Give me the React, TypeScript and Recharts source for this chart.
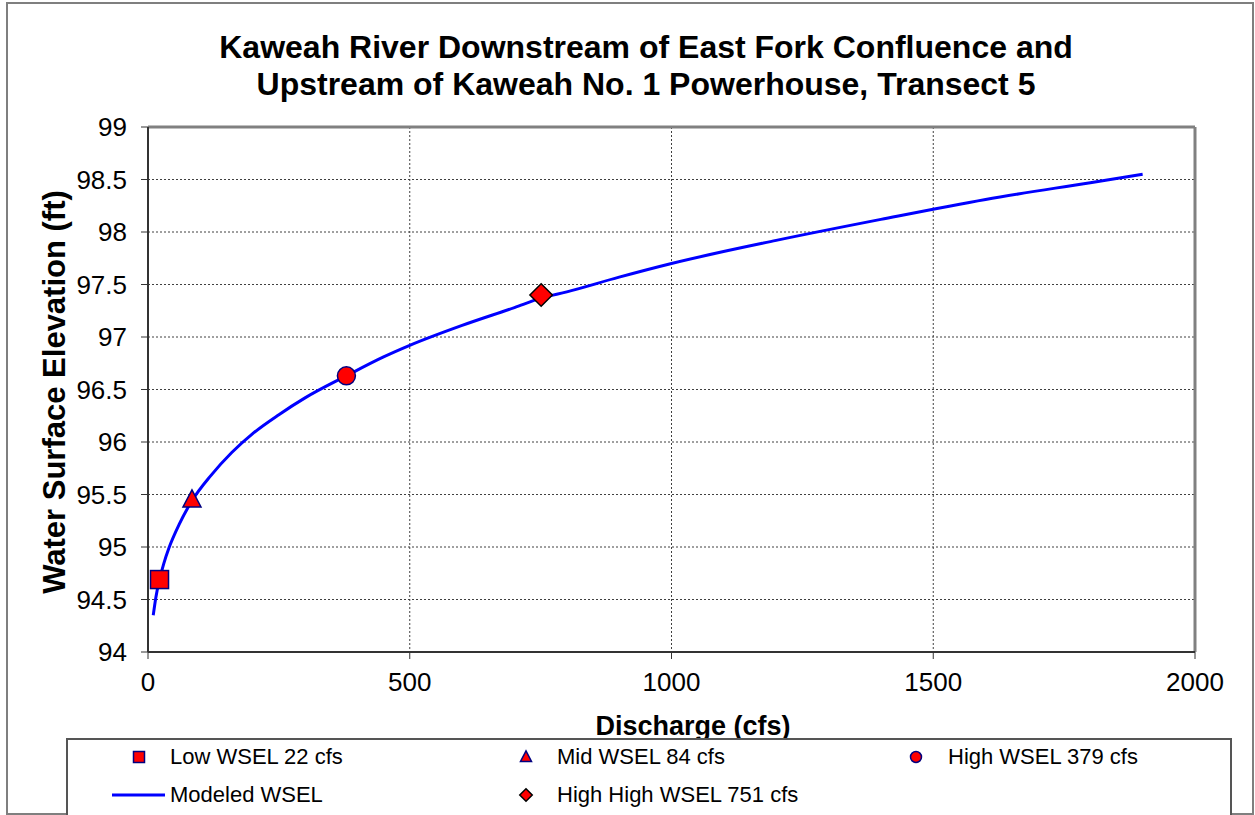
import { ComposedChart, Line, Scatter, XAxis, YAxis, CartesianGrid, ReferenceLine, Label } from 'recharts'

const modeledQ = [10, 15, 22, 30, 40, 60, 84, 120, 160, 200, 250, 300, 379, 450, 500, 600, 700, 751, 800, 900, 1000, 1200, 1400, 1600, 1800, 1900]
const modeledWsel = [94.35, 94.52, 94.69, 94.84, 94.99, 95.22, 95.44, 95.68, 95.9, 96.08, 96.26, 96.42, 96.63, 96.81, 96.92, 97.11, 97.28, 97.37, 97.43, 97.57, 97.7, 97.92, 98.12, 98.31, 98.47, 98.55]

const obsNames = ['Low WSEL 22 cfs', 'Mid WSEL 84 cfs', 'High WSEL 379 cfs', 'High High WSEL 751 cfs']
const obsQ = [22, 84, 379, 751]
const obsWsel = [94.69, 95.45, 96.63, 97.4]

const xTicks = [0, 500, 1000, 1500, 2000]
const yTicks = [94, 94.5, 95, 95.5, 96, 96.5, 97, 97.5, 98, 98.5, 99]

const modeled = modeledQ.map((q, i) => ({ q, wsel: modeledWsel[i] }))

const FONT = 'Liberation Sans, Arial, Helvetica, sans-serif'
const RED = '#ff0000'
const NAVY = '#000080'

type Kind = 'square' | 'triangle' | 'circle' | 'diamond'
const kinds: Kind[] = ['square', 'triangle', 'circle', 'diamond']

function Marker({ kind, cx, cy, s }: { kind: Kind; cx: number; cy: number; s: number }) {
  const h = s / 2
  if (kind === 'square')
    return <rect x={cx - h} y={cy - h} width={s} height={s} fill={RED} stroke={NAVY} strokeWidth={1.5} />
  if (kind === 'triangle')
    return (
      <polygon
        points={`${cx},${cy - h * 1.1} ${cx + h},${cy + h * 0.8} ${cx - h},${cy + h * 0.8}`}
        fill={RED}
        stroke={NAVY}
        strokeWidth={1.5}
      />
    )
  if (kind === 'circle') return <circle cx={cx} cy={cy} r={h} fill={RED} stroke={NAVY} strokeWidth={1.5} />
  const d = h * 1.25
  return (
    <polygon
      points={`${cx},${cy - d} ${cx + d},${cy} ${cx},${cy + d} ${cx - d},${cy}`}
      fill={RED}
      stroke="#000"
      strokeWidth={1.5}
    />
  )
}

function LegendIcon({ kind }: { kind: Kind | 'line' }) {
  return (
    <svg width={60} height={20} style={{ display: 'block' }}>
      {kind === 'line' ? (
        <line x1={3} y1={10} x2={56} y2={10} stroke="#0000ff" strokeWidth={3} />
      ) : (
        <Marker kind={kind} cx={30} cy={10} s={kind === 'diamond' ? 10 : 11} />
      )}
    </svg>
  )
}

// legend entries in the order excel lays them out: 3 per row
const legendItems: { label: string; kind: Kind | 'line'; col: number; row: number }[] = [
  { label: obsNames[0], kind: 'square', col: 0, row: 0 },
  { label: obsNames[1], kind: 'triangle', col: 1, row: 0 },
  { label: obsNames[2], kind: 'circle', col: 2, row: 0 },
  { label: 'Modeled WSEL', kind: 'line', col: 0, row: 1 },
  { label: obsNames[3], kind: 'diamond', col: 1, row: 1 },
]
const colIcon = [73, 460, 850]
const colText = [104, 491, 882]
const rowY = [19, 57]

export default function App() {
  return (
    <div style={{ position: 'absolute', left: 0, top: 0, width: 1255, height: 815, background: '#fff', fontFamily: FONT, overflow: 'hidden' }}>
      <div
        style={{
          position: 'absolute',
          left: 6,
          top: 2,
          width: 1248,
          height: 813,
          border: '2px solid #7f7f7f',
          boxSizing: 'border-box',
        }}
      />
      <div
        style={{
          position: 'absolute',
          left: 146,
          top: 29,
          width: 1000,
          textAlign: 'center',
          fontWeight: 'bold',
          fontSize: 32,
          lineHeight: '37px',
          color: '#000',
        }}
      >
        Kaweah River Downstream of East Fork Confluence and
        <br />
        Upstream of Kaweah No. 1 Powerhouse, Transect 5
      </div>

      <div style={{ position: 'absolute', left: 0, top: 0 }}>
        <ComposedChart width={1255} height={815} margin={{ top: 127, right: 60, left: 68, bottom: 103 }}>
          <CartesianGrid stroke="#404040" strokeDasharray="2 2" strokeWidth={1} />
          <XAxis
            type="number"
            dataKey="q"
            domain={[0, 2000]}
            ticks={xTicks}
            height={60}
            tickSize={7}
            tickMargin={14}
            axisLine={{ stroke: '#333', strokeWidth: 2 }}
            tickLine={{ stroke: '#333' }}
            tick={{ fontSize: 26, fill: '#000', fontFamily: FONT }}
          >
            <Label
              content={() => (
                <text x={693} y={735} textAnchor="middle" fontSize={27} fontWeight="bold" fontFamily={FONT} fill="#000">
                  Discharge (cfs)
                </text>
              )}
            />
          </XAxis>
          <YAxis
            type="number"
            dataKey="wsel"
            domain={[94, 99]}
            ticks={yTicks}
            width={80}
            tickSize={7}
            tickMargin={14}
            axisLine={{ stroke: '#333', strokeWidth: 2 }}
            tickLine={{ stroke: '#333' }}
            tick={{ fontSize: 26, fill: '#000', fontFamily: FONT }}
          >
            <Label
              content={() => (
                <text
                  x={65}
                  y={392}
                  transform="rotate(-90, 65, 392)"
                  textAnchor="middle"
                  fontSize={31}
                  fontWeight="bold"
                  fontFamily={FONT}
                  fill="#000"
                >
                  Water Surface Elevation (ft)
                </text>
              )}
            />
          </YAxis>
          <ReferenceLine y={99} stroke="#808080" strokeWidth={3} />
          <ReferenceLine x={2000} stroke="#808080" strokeWidth={3} />
          <Line
            data={modeled}
            dataKey="wsel"
            type="monotone"
            stroke="#0000ff"
            strokeWidth={3}
            dot={false}
            activeDot={false}
            isAnimationActive={false}
          />
          {obsQ.map((q, i) => (
            <Scatter
              key={obsNames[i]}
              name={obsNames[i]}
              data={[{ q, wsel: obsWsel[i] }]}
              dataKey="wsel"
              isAnimationActive={false}
              shape={(p: any) => <Marker kind={kinds[i]} cx={p.cx} cy={p.cy} s={18} />}
            />
          ))}
        </ComposedChart>
      </div>

      <div
        style={{
          position: 'absolute',
          left: 66,
          top: 738,
          width: 1166,
          height: 90,
          border: '2px solid #555',
          boxSizing: 'border-box',
          background: '#fff',
        }}
      >
        {legendItems.map((it) => (
          <div key={it.label}>
            <div style={{ position: 'absolute', left: colIcon[it.col] - 30 - 2, top: rowY[it.row] - 10 - 2 }}>
              <LegendIcon kind={it.kind} />
            </div>
            <div
              style={{
                position: 'absolute',
                left: colText[it.col] - 2,
                top: rowY[it.row] - 13 - 2,
                fontSize: 22,
                lineHeight: '26px',
                whiteSpace: 'nowrap',
                color: '#000',
              }}
            >
              {it.label}
            </div>
          </div>
        ))}
      </div>
    </div>
  )
}
